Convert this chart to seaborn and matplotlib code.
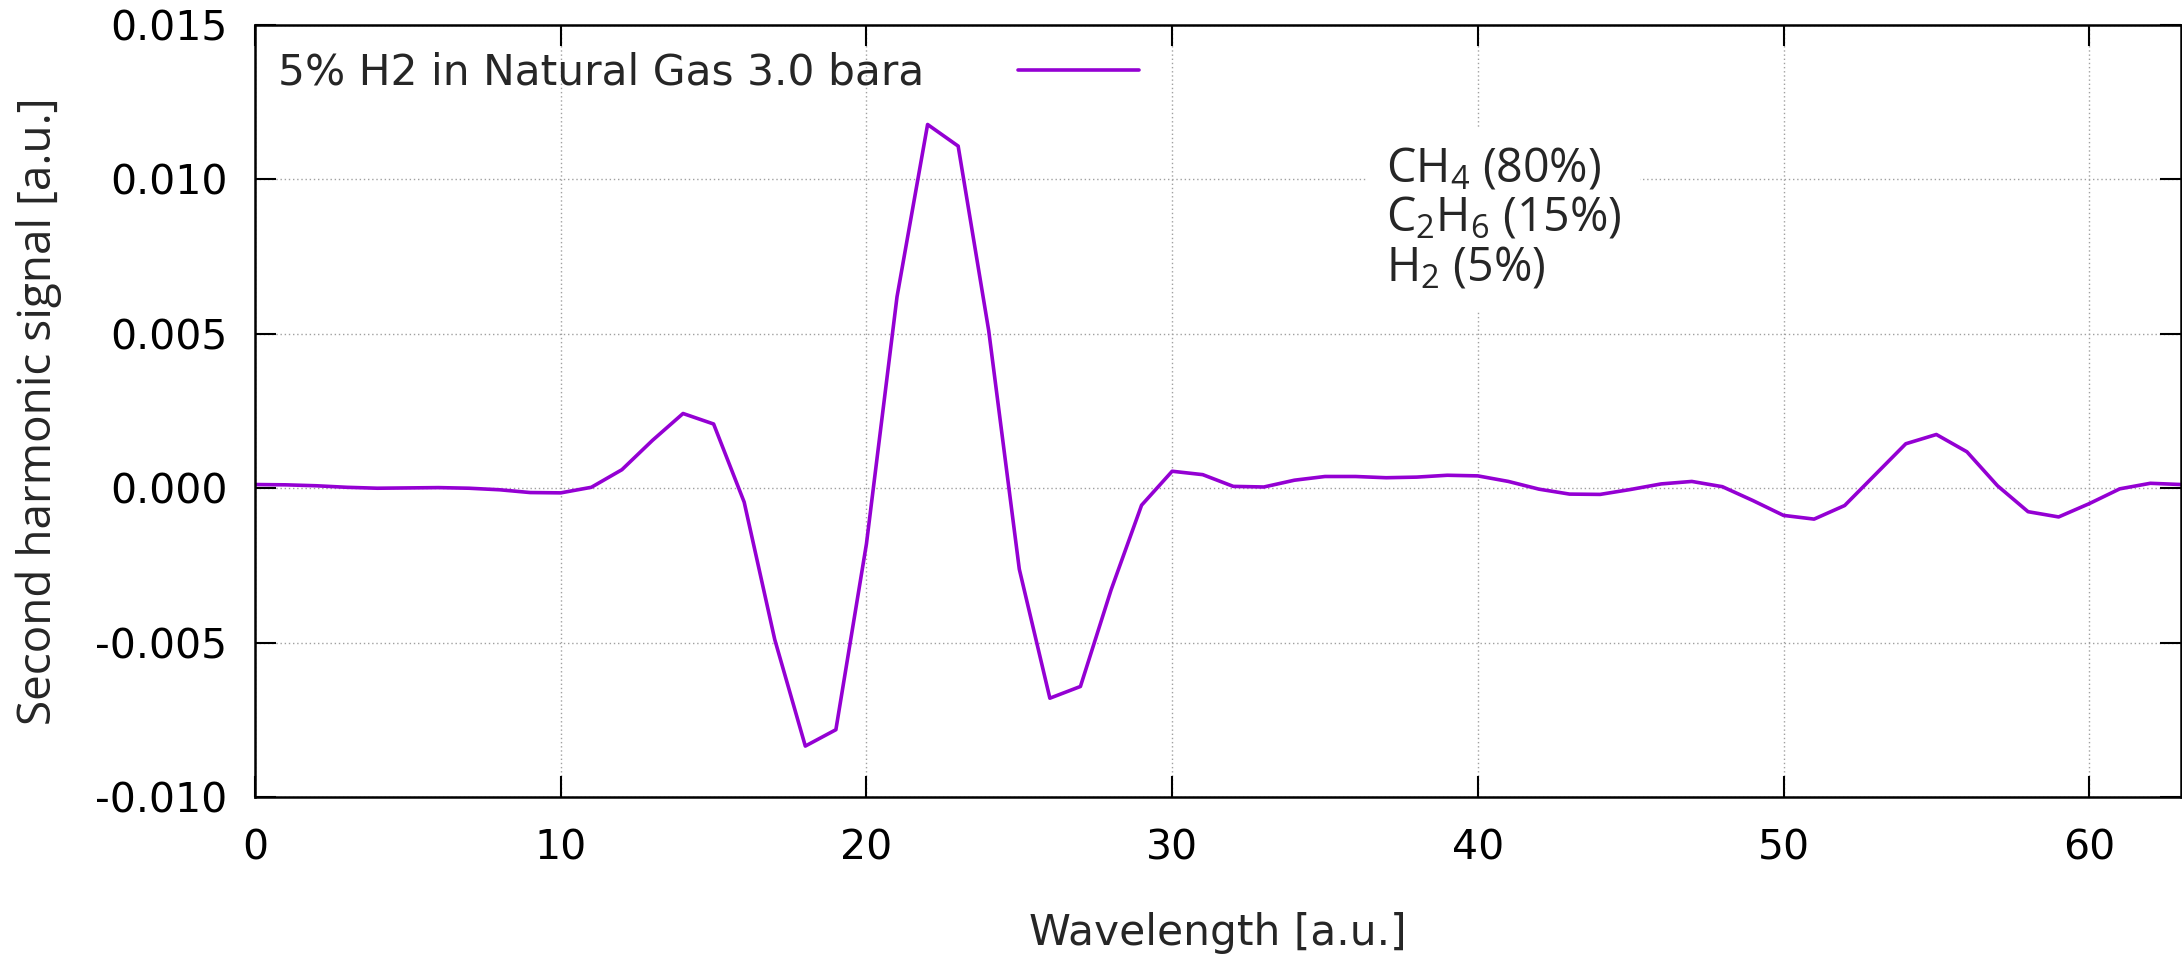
import matplotlib
matplotlib.use("Agg")
import matplotlib.pyplot as plt
import seaborn as sns
import pandas as pd

# values (signal in a.u.)
wavelength = list(range(64))
signal = [
    0.00012, 0.00011, 0.00008, 0.00003, 0.00000, 0.00001, 0.00002, 0.00000,
    -0.00005, -0.00014, -0.00015, 0.00003, 0.00060, 0.00155, 0.00242, 0.00208,
    -0.00045, -0.00490, -0.00835, -0.00782, -0.00180, 0.00620, 0.01178, 0.01108,
    0.00510, -0.00262, -0.00680, -0.00642, -0.00330, -0.00055, 0.00055, 0.00044,
    0.00006, 0.00004, 0.00026, 0.00038, 0.00038, 0.00034, 0.00036, 0.00042,
    0.00040, 0.00022, -0.00003, -0.00019, -0.00020, -0.00004, 0.00014, 0.00022,
    0.00005, -0.00040, -0.00088, -0.00100, -0.00056, 0.00044, 0.00144, 0.00174,
    0.00118, 0.00008, -0.00076, -0.00093, -0.00050, -0.00002, 0.00016, 0.00012,
]
series_label = "5% H2 in Natural Gas 3.0 bara"
composition = ["CH$_4$ (80%)", "C$_2$H$_6$ (15%)", "H$_2$ (5%)"]
x_ticks = [0, 10, 20, 30, 40, 50, 60]
y_ticks = [-0.010, -0.005, 0.000, 0.005, 0.010, 0.015]

sns.set_style("ticks")
plt.rcParams["font.family"] = ["DejaVu Sans"]
plt.rcParams["axes.unicode_minus"] = False
plt.rcParams["mathtext.fontset"] = "custom"
plt.rcParams["mathtext.rm"] = "Open Sans"
plt.rcParams["mathtext.it"] = "Open Sans"

df = pd.DataFrame({"Wavelength": wavelength, "Signal": signal})

fig = plt.figure(figsize=(21.82, 9.56), dpi=100)
ax = fig.add_axes([0.1169, 0.1663, 0.8826, 0.8075])

sns.lineplot(data=df, x="Wavelength", y="Signal", color="#9400D3",
             linewidth=2.6, label=series_label, ax=ax)

ax.set_xlim(0, 63)
ax.set_ylim(-0.010, 0.015)
ax.set_xticks(x_ticks)
ax.set_yticks(y_ticks)
ax.set_yticklabels([f"{v:.3f}" for v in y_ticks])
ax.grid(True, color="#a0a0a0", linestyle=(0, (1, 2)), linewidth=1.0)

ax.tick_params(direction="in", length=15, width=1.5, labelsize=29.5,
               top=True, right=True, colors="black")
ax.tick_params(axis="x", pad=23)
ax.tick_params(axis="y", pad=20)
for sp in ax.spines.values():
    sp.set_linewidth(1.8)
    sp.set_color("black")

ax.set_xlabel("Wavelength [a.u.]", fontsize=30.5, labelpad=31)
ax.set_ylabel("Second harmonic signal [a.u.]", fontsize=33,
              family=["Open Sans", "DejaVu Sans"], labelpad=24)

ax.legend(loc="center left", bbox_to_anchor=(0.012, 0.938), frameon=False,
          markerfirst=False, fontsize=30.5, handlelength=2.86,
          handletextpad=2.2, borderpad=0, borderaxespad=0)

ax.text(0.587, 0.749, "\n".join(composition), transform=ax.transAxes,
        ha="left", va="center", fontsize=33.5, linespacing=1.05,
        family=["Open Sans", "DejaVu Sans"],
        bbox=dict(boxstyle="square,pad=0.4", facecolor="white",
                  edgecolor="none"))

fig.savefig("out.png", dpi=100)
plt.close(fig)
